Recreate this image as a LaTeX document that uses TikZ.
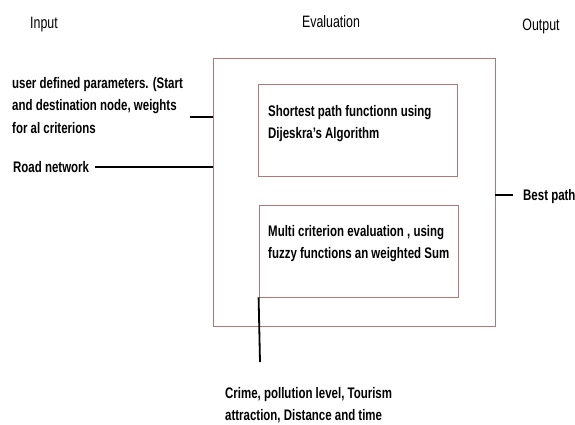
\documentclass[tikz,border=0pt]{standalone}
\usepackage{fontspec}
\setmainfont{Liberation Sans}[FakeStretch=0.75]
\begin{document}
\begin{tikzpicture}[x=1pt,y=-1pt,
  lbl/.style={font=\bfseries\fontsize{15.3}{22.5}\selectfont,inner sep=0pt,align=left,anchor=north west},
  hdr/.style={font=\fontsize{16.5}{18}\selectfont,inner sep=0pt,anchor=center},
  frame/.style={draw=boxred,line width=0.8pt,inner sep=0pt},
  wire/.style={line width=2.6pt,black},
  thinwire/.style={line width=1.8pt,black}]
\definecolor{boxred}{HTML}{B07878}
\useasboundingbox (0,0) rectangle (575,425);
% headers
\node[hdr] (hin) at (44,25) {Input};
\node[hdr] (hev) at (331,22) {Evaluation};
\node[hdr] (hout) at (541,26) {Output};
% boxes
\node[frame,minimum width=282pt,minimum height=268pt] (outer) at (354,192) {};
\node[frame,minimum width=199pt,minimum height=92pt] (b1) at (357.5,130) {};
\node[frame,minimum width=199pt,minimum height=92pt] (b2) at (358.5,251) {};
% texts
\node[lbl] (user) at (12,77) {user defined parameters. (Start\\and destination node, weights\\for al criterions};
\node[lbl] (road) at (13,161) {Road network};
\node[lbl] (t1) at (268,105) {Shortest path functionn using\\Dijeskra's Algorithm};
\node[lbl] (t2) at (268,225) {Multi criterion evaluation , using\\fuzzy functions an weighted Sum};
\node[lbl] (crime) at (225,387) {Crime, pollution level, Tourism\\attraction, Distance and time};
\node[lbl] (best) at (523,189) {Best path};
% connectors
\coordinate (u1) at (190,117);
\coordinate (r1) at (95,167);
\coordinate (bp) at (513,195);
\coordinate (cv) at (260,362);
\draw[wire] (u1) -- (u1 -| outer.west);
\draw[wire] (r1) -- (r1 -| outer.west);
\draw[wire] (bp -| outer.east) -- (bp);
\draw[thinwire] (b2.south west) -- (cv);
\end{tikzpicture}
\end{document}
